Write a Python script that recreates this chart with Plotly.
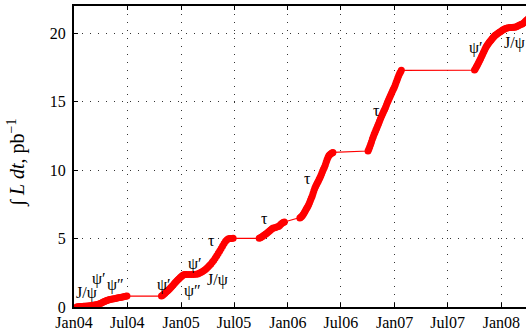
import plotly.graph_objects as go

# Integrated luminosity by running period (date, cumulative pb^-1)
run04_dates = ["2004-01-10", "2004-01-14", "2004-01-18", "2004-01-22", "2004-01-26", "2004-01-30",
               "2004-02-03", "2004-02-07", "2004-02-11", "2004-02-15", "2004-02-20", "2004-02-25",
               "2004-03-01", "2004-03-06", "2004-03-11", "2004-03-16", "2004-03-21", "2004-03-26",
               "2004-03-31", "2004-04-04", "2004-04-08", "2004-04-12", "2004-04-16", "2004-04-20",
               "2004-04-24", "2004-04-28", "2004-05-02", "2004-05-07", "2004-05-12", "2004-05-17",
               "2004-05-22", "2004-05-27", "2004-06-01", "2004-06-06", "2004-06-11", "2004-06-16",
               "2004-06-21", "2004-06-26", "2004-06-30"]
run04_lumi = [0.00, 0.01, 0.02, 0.03, 0.03, 0.04, 0.05, 0.05, 0.06, 0.07, 0.08, 0.10,
              0.11, 0.13, 0.15, 0.17, 0.19, 0.22, 0.26, 0.30, 0.34, 0.38, 0.42, 0.46,
              0.49, 0.52, 0.55, 0.57, 0.59, 0.61, 0.63, 0.65, 0.68, 0.70, 0.72, 0.74,
              0.76, 0.78, 0.80]

run05_dates = ["2004-10-26", "2004-10-30", "2004-11-03", "2004-11-07", "2004-11-11", "2004-11-15",
               "2004-11-19", "2004-11-23", "2004-11-27", "2004-12-01", "2004-12-05", "2004-12-09",
               "2004-12-13", "2004-12-17", "2004-12-21", "2004-12-25", "2004-12-29", "2005-01-02",
               "2005-01-06", "2005-01-10", "2005-01-14", "2005-01-20", "2005-01-28", "2005-02-05",
               "2005-02-13", "2005-02-21", "2005-02-27", "2005-03-04", "2005-03-09", "2005-03-14",
               "2005-03-19", "2005-03-24", "2005-03-29", "2005-04-03", "2005-04-08", "2005-04-13",
               "2005-04-18", "2005-04-23", "2005-04-28", "2005-05-03", "2005-05-08", "2005-05-13",
               "2005-05-18", "2005-05-23", "2005-05-28", "2005-06-02", "2005-06-07", "2005-06-12",
               "2005-06-17", "2005-06-22", "2005-06-28"]
run05_lumi = [0.80, 0.86, 0.93, 1.01, 1.09, 1.17, 1.25, 1.33, 1.42, 1.51, 1.61, 1.71,
              1.81, 1.90, 1.99, 2.07, 2.15, 2.23, 2.30, 2.35, 2.37, 2.37, 2.37, 2.38,
              2.38, 2.39, 2.41, 2.46, 2.52, 2.58, 2.65, 2.73, 2.82, 2.92, 3.03, 3.15,
              3.28, 3.42, 3.58, 3.75, 3.92, 4.10, 4.28, 4.46, 4.64, 4.80, 4.92, 4.98,
              5.00, 5.01, 5.02]

run06_dates = ["2005-09-25", "2005-09-29", "2005-10-03", "2005-10-07", "2005-10-11", "2005-10-15",
               "2005-10-19", "2005-10-23", "2005-10-27", "2005-10-31", "2005-11-04", "2005-11-08",
               "2005-11-12", "2005-11-18", "2005-11-24", "2005-11-30", "2005-12-04", "2005-12-08",
               "2005-12-12", "2005-12-16", "2005-12-20",
               "2006-02-11", "2006-02-14", "2006-02-17", "2006-02-20", "2006-02-23", "2006-02-26",
               "2006-03-01", "2006-03-04", "2006-03-07", "2006-03-10", "2006-03-13", "2006-03-16",
               "2006-03-19", "2006-03-22", "2006-03-25", "2006-03-28", "2006-03-31", "2006-04-03",
               "2006-04-06", "2006-04-09", "2006-04-12", "2006-04-15", "2006-04-18", "2006-04-21",
               "2006-04-24", "2006-04-27", "2006-04-30", "2006-05-03", "2006-05-06", "2006-05-09",
               "2006-05-12", "2006-05-15", "2006-05-18", "2006-05-21", "2006-05-24", "2006-05-28",
               "2006-06-01", "2006-06-04"]
run06_lumi = [5.02, 5.06, 5.11, 5.17, 5.24, 5.30, 5.36, 5.43, 5.50, 5.58, 5.65, 5.72,
              5.77, 5.80, 5.84, 5.88, 5.95, 6.05, 6.13, 6.18, 6.21,
              6.50, 6.56, 6.62, 6.69, 6.77, 6.88, 7.00, 7.12, 7.24, 7.35, 7.48, 7.62,
              7.78, 7.94, 8.10, 8.30, 8.50, 8.68, 8.82, 8.95, 9.08, 9.20, 9.34, 9.47,
              9.62, 9.78, 9.94, 10.08, 10.22, 10.38, 10.58, 10.76, 10.92, 11.05, 11.13, 11.20,
              11.26, 11.30]

run07_dates = ["2006-10-02", "2006-10-05", "2006-10-08", "2006-10-11", "2006-10-14", "2006-10-17",
               "2006-10-20", "2006-10-23", "2006-10-26", "2006-10-29", "2006-11-01", "2006-11-04",
               "2006-11-07", "2006-11-10", "2006-11-13", "2006-11-16", "2006-11-19", "2006-11-22",
               "2006-11-25", "2006-11-28", "2006-12-01", "2006-12-04", "2006-12-07", "2006-12-10",
               "2006-12-13", "2006-12-16", "2006-12-19", "2006-12-22", "2006-12-25", "2006-12-28",
               "2006-12-31", "2007-01-03", "2007-01-06", "2007-01-09", "2007-01-12", "2007-01-15",
               "2007-01-18", "2007-01-21", "2007-01-24"]
run07_lumi = [11.40, 11.55, 11.72, 11.90, 12.08, 12.27, 12.45, 12.62, 12.78, 12.93, 13.08, 13.24,
              13.40, 13.56, 13.72, 13.88, 14.03, 14.18, 14.32, 14.45, 14.60, 14.76, 14.92, 15.08,
              15.22, 15.36, 15.52, 15.66, 15.80, 15.93, 16.07, 16.22, 16.40, 16.58, 16.76, 16.92,
              17.06, 17.18, 17.30]

run08_dates = ["2007-10-01", "2007-10-04", "2007-10-07", "2007-10-10", "2007-10-13", "2007-10-16",
               "2007-10-19", "2007-10-22", "2007-10-25", "2007-10-28", "2007-10-31", "2007-11-03",
               "2007-11-06", "2007-11-09", "2007-11-12", "2007-11-15", "2007-11-18", "2007-11-21",
               "2007-11-24", "2007-11-27", "2007-11-30", "2007-12-03", "2007-12-06", "2007-12-09",
               "2007-12-12", "2007-12-16", "2007-12-20", "2007-12-24", "2007-12-28", "2008-01-01",
               "2008-01-05", "2008-01-09", "2008-01-13", "2008-01-18", "2008-01-24", "2008-01-30",
               "2008-02-05", "2008-02-11", "2008-02-16", "2008-02-21", "2008-02-26", "2008-03-02",
               "2008-03-07", "2008-03-12", "2008-03-17", "2008-03-22", "2008-03-27", "2008-04-01"]
run08_lumi = [17.32, 17.42, 17.54, 17.66, 17.78, 17.91, 18.03, 18.16, 18.30, 18.44, 18.58, 18.72,
              18.86, 18.98, 19.09, 19.19, 19.28, 19.36, 19.44, 19.52, 19.60, 19.68, 19.75, 19.82,
              19.88, 19.94, 20.00, 20.06, 20.12, 20.18, 20.24, 20.29, 20.34, 20.38, 20.41, 20.42,
              20.43, 20.44, 20.45, 20.49, 20.54, 20.59, 20.64, 20.69, 20.76, 20.86, 20.96, 21.06]

dates = run04_dates + run05_dates + run06_dates + run07_dates + run08_dates
lumi = run04_lumi + run05_lumi + run06_lumi + run07_lumi + run08_lumi

# Resonance / energy-point labels along the curve
label_text = ["J/ψ", "ψ′", "ψ″", "ψ′", "ψ′", "ψ″", "J/ψ", "τ", "τ", "τ", "τ", "ψ′", "J/ψ"]
label_date = ["2004-02-14", "2004-03-27", "2004-05-22", "2004-11-03", "2005-02-17", "2005-02-10",
              "2005-05-06", "2005-04-16", "2005-10-14", "2006-03-10", "2006-11-01", "2007-10-05",
              "2008-02-16"]
label_lumi = [1.05, 2.05, 1.60, 1.63, 3.16, 1.19, 1.99, 4.84, 6.45, 9.36, 14.33, 18.93, 19.3]

tick_dates = ["2004-01-01", "2004-07-01", "2005-01-01", "2005-07-01", "2006-01-01",
              "2006-07-01", "2007-01-01", "2007-07-01", "2008-01-01"]
tick_text = ["Jan04", "Jul04", "Jan05", "Jul05", "Jan06", "Jul06", "Jan07", "Jul07", "Jan08"]
y_ticks = [0, 5, 10, 15, 20]

FONT = "Liberation Serif"
RED = "#ff0000"

fig = go.Figure()
fig.add_trace(go.Scatter(
    x=dates, y=lumi, mode="lines+markers",
    line=dict(color=RED, width=1.2),
    marker=dict(color=RED, size=7, line=dict(width=0)),
    showlegend=False,
))

for t, d, v in zip(label_text, label_date, label_lumi):
    fig.add_annotation(x=d, y=v, xref="x", yref="y", text=t, showarrow=False,
                       font=dict(family=FONT, size=16, color="black"),
                       xanchor="center", yanchor="middle", borderpad=0)

fig.add_annotation(
    x=-0.1266, y=0.479, xref="paper", yref="paper",
    text="∫ <i>L</i> <i>dt</i>, pb<sup>−1</sup>", textangle=-90, showarrow=False,
    font=dict(family=FONT, size=20, color="black"),
    xanchor="center", yanchor="middle",
)

grid_dash = "1px,7px"
fig.update_layout(
    width=526, height=335,
    margin=dict(l=74, r=0, t=6, b=28),
    paper_bgcolor="white", plot_bgcolor="white",
    font=dict(family=FONT, size=16, color="black"),
    xaxis=dict(
        type="date", range=["2004-01-01", "2008-03-25"],
        tickvals=tick_dates, ticktext=tick_text,
        ticks="inside", ticklen=4, tickwidth=1, tickcolor="black",
        showline=True, linewidth=2, linecolor="black", mirror="ticks",
        showgrid=True, gridcolor="#333333", gridwidth=1, griddash=grid_dash,
        zeroline=False, tickfont=dict(family=FONT, size=16),
    ),
    yaxis=dict(
        range=[0, 22], tickvals=y_ticks,
        ticks="inside", ticklen=4, tickwidth=1, tickcolor="black",
        showline=True, linewidth=2, linecolor="black",
        showgrid=True, gridcolor="#333333", gridwidth=1, griddash=grid_dash,
        zeroline=False, tickfont=dict(family=FONT, size=16), ticklabelstandoff=3,
    ),
    yaxis2=dict(
        overlaying="y", side="right", range=[0, 22], tickvals=y_ticks,
        ticks="inside", ticklen=4, tickwidth=1, tickcolor="black",
        showticklabels=False, showgrid=False, showline=False, zeroline=False,
    ),
)

fig.write_html("out.html")
